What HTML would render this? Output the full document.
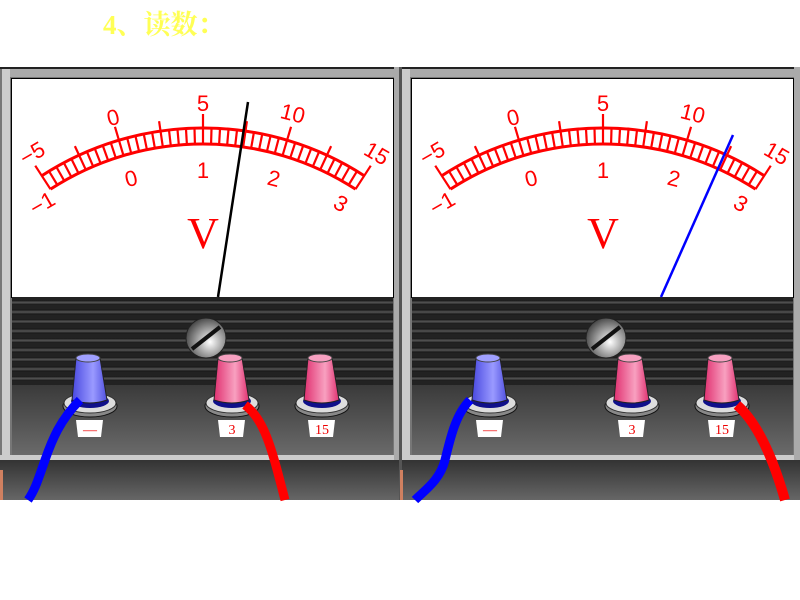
<!DOCTYPE html>
<html><head><meta charset="utf-8"><style>
body{margin:0;background:#fff;width:800px;height:600px;overflow:hidden}
svg{display:block}
</style></head><body>
<svg id="s" width="800" height="600" xmlns="http://www.w3.org/2000/svg">
<defs>
<linearGradient id="stripe" x1="0" y1="0" x2="0" y2="1">
<stop offset="0" stop-color="#111"/><stop offset="0.5" stop-color="#555"/><stop offset="1" stop-color="#111"/>
</linearGradient>
<linearGradient id="body" x1="0" y1="0" x2="0" y2="1">
<stop offset="0" stop-color="#3a3a3a"/><stop offset="1" stop-color="#6a6a6a"/>
</linearGradient>
<linearGradient id="bot" x1="0" y1="0" x2="0" y2="1">
<stop offset="0" stop-color="#333"/><stop offset="1" stop-color="#666"/>
</linearGradient>
<linearGradient id="blue" x1="0" y1="0" x2="1" y2="0">
<stop offset="0" stop-color="#4848e0"/><stop offset="0.6" stop-color="#9a9aff"/><stop offset="1" stop-color="#5050e0"/>
</linearGradient>
<linearGradient id="pink" x1="0" y1="0" x2="1" y2="0">
<stop offset="0" stop-color="#e03070"/><stop offset="0.6" stop-color="#f8a0c0"/><stop offset="1" stop-color="#e03070"/>
</linearGradient>
<radialGradient id="screw" cx="0.6" cy="0.6" r="0.7">
<stop offset="0" stop-color="#fff"/><stop offset="0.5" stop-color="#999"/><stop offset="1" stop-color="#333"/>
</radialGradient>
<g id="meter">
<rect x="0" y="67" width="400" height="433" fill="#777"/>
<rect x="0" y="67" width="400" height="2" fill="#222"/>
<rect x="2" y="69" width="396" height="8" fill="#aaa"/>
<rect x="2" y="69" width="8" height="390" fill="#ccc"/>
<rect x="11" y="78" width="383" height="220" fill="#000"/>
<rect x="12" y="79" width="381" height="218" fill="#fff"/>
<rect x="12" y="297" width="381" height="88" fill="#222"/>
<g id="stripes"></g>
<rect x="12" y="385" width="381" height="70" fill="url(#body)"/>
<rect x="0" y="455" width="400" height="5" fill="#ccc"/>
<rect x="0" y="460" width="400" height="40" fill="url(#bot)"/>
<rect x="394" y="67" width="6" height="393" fill="#aaa"/>
<g id="scale" fill="none" stroke="#f00"></g>
<g font-family="Liberation Sans, sans-serif" font-size="22" fill="#f00" text-anchor="middle">
<text x="32" y="161" transform="rotate(-30 32 153)">−5</text>
<text x="113" y="125" transform="rotate(-14 113 117)">0</text>
<text x="203" y="111">5</text>
<text x="293" y="121" transform="rotate(14 293 113)">10</text>
<text x="377" y="161" transform="rotate(30 377 153)">15</text>
<text x="42" y="211" transform="rotate(-30 42 203)">−1</text>
<text x="131" y="186" transform="rotate(-14 131 178)">0</text>
<text x="203" y="178">1</text>
<text x="274" y="186" transform="rotate(14 274 178)">2</text>
<text x="341" y="211" transform="rotate(30 341 203)">3</text>
</g>
<text x="203" y="248" font-family="Liberation Serif, serif" font-size="44" fill="#f00" text-anchor="middle">V</text>
<circle cx="206" cy="338" r="20" fill="url(#screw)" stroke="#222"/>
<line x1="192" y1="349" x2="220" y2="327" stroke="#111" stroke-width="4"/>
<g id="terms"></g>
</g>
</defs>
<text x="103" y="34" font-family="Liberation Serif, 'Noto Serif CJK SC', serif" font-size="27" font-weight="bold" fill="#ffff55">4、读数：</text>
<use href="#meter"/>
<use href="#meter" x="400"/>
<rect x="399" y="67" width="3" height="433" fill="#555"/>
<line x1="218" y1="297" x2="248" y2="102" stroke="#000" stroke-width="2.5"/>
<line x1="661" y1="297" x2="733" y2="135" stroke="#00f" stroke-width="2.5"/>
<path d="M80 400 C60 420,52 440,45 460 S35 490,28 500" stroke="#00f" stroke-width="9" fill="none"/>
<path d="M245 405 C265 420,272 450,285 500" stroke="#f00" stroke-width="9" fill="none"/>
<path d="M470 400 C455 415,450 440,445 460 S425 490,415 500" stroke="#00f" stroke-width="9" fill="none"/>
<path d="M737 405 C760 425,775 465,785 500" stroke="#f00" stroke-width="10" fill="none"/>
<rect x="0" y="470" width="3" height="30" fill="#d08060"/>
<rect x="400" y="470" width="3" height="30" fill="#d08060"/>
</svg>
<script>
var NS="http://www.w3.org/2000/svg";
function el(p,t,a){var e=document.createElementNS(NS,t);for(var k in a)e.setAttribute(k,a[k]);p.appendChild(e);return e;}
var st=document.getElementById('stripes');
for(var y=300;y<380;y+=9.5){el(st,'rect',{x:12,y:y,width:381,height:5,fill:'url(#stripe)'});}
var sc=document.getElementById('scale');
var cx=203,cy=424,R1=296,R2=280,A=33*Math.PI/180;
function pt(r,a){return [cx+r*Math.sin(a),cy-r*Math.cos(a)];}
var p1=pt(R1,-A),p2=pt(R1,A),q1=pt(R2,-A),q2=pt(R2,A);
el(sc,'path',{d:'M'+p1+' A'+R1+' '+R1+' 0 0 1 '+p2,'stroke-width':3});
el(sc,'path',{d:'M'+q1+' A'+R2+' '+R2+' 0 0 1 '+q2,'stroke-width':3});
for(var i=0;i<=40;i++){var a=-A+2*A*i/40;var o=(i%5==0)?(i%10==0?R1+14:R1+10):R1;if(i==0||i==40)o=R1+12;
var a1=pt(R2,a),a2=pt(o,a);el(sc,'line',{x1:a1[0],y1:a1[1],x2:a2[0],y2:a2[1],'stroke-width':2.2});}
var tm=document.getElementById('terms');
function term(x,grad,lab){
el(tm,'ellipse',{cx:x,cy:406,rx:27,ry:11,fill:'#888',stroke:'#111'});
el(tm,'ellipse',{cx:x,cy:403,rx:26,ry:10,fill:'#ddd',stroke:'#333'});
el(tm,'ellipse',{cx:x,cy:401,rx:19,ry:7,fill:'#10108a'});
el(tm,'path',{d:'M'+(x-14)+' 358 L'+(x+10)+' 358 L'+(x+17)+' 400 Q'+x+' 406 '+(x-18)+' 400 Z',fill:'url(#'+grad+')',stroke:'#222'});
el(tm,'ellipse',{cx:x-2,cy:358,rx:12,ry:4,fill:grad=='blue'?'#a0a0ff':'#f6a0c0',stroke:'#444'});
el(tm,'path',{d:'M'+(x-14)+' 420 L'+(x+13)+' 420 L'+(x+11)+' 437 L'+(x-12)+' 437 Z',fill:'#fff'});
var t=el(tm,'text',{x:x,y:434,'font-family':'Liberation Serif,serif','font-size':14,fill:'#e00','text-anchor':'middle'});t.textContent=lab;
}
term(90,'blue','—');term(232,'pink','3');term(322,'pink','15');
</script>
</body></html>
